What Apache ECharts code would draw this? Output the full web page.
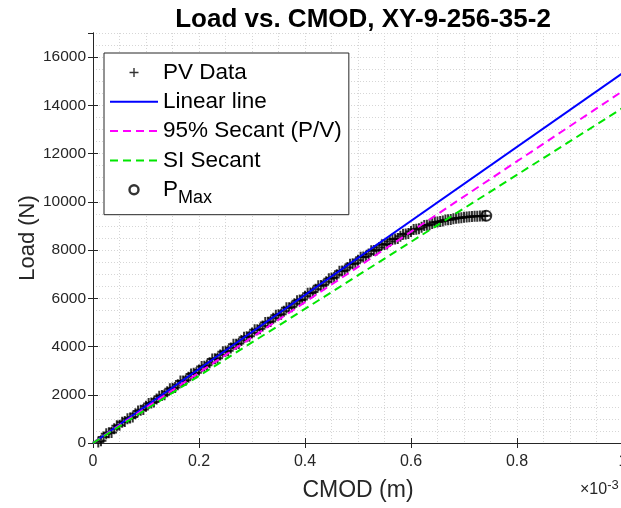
<!DOCTYPE html>
<html>
<head>
<meta charset="UTF-8" />
<title>Load vs. CMOD</title>
<script src="https://cdn.jsdelivr.net/npm/echarts@6/dist/echarts.min.js"></script>
<style type="text/css">
    body{ margin:0; background:#fff; }
    #chart{ width:621px; height:508px; }
</style>
</head>
<body>
<div id="chart"></div>
<script type="text/javascript">
// CMOD in units of 1e-3 m, load in N
var pvCmod = [0.010,0.015,0.020,0.025,0.030,0.035,0.040,0.045,0.050,0.055,
              0.060,0.065,0.070,0.075,0.080,0.085,0.090,0.095,0.100,0.105,
              0.110,0.115,0.120,0.125,0.130,0.135,0.140,0.145,0.150,0.155,
              0.160,0.165,0.170,0.175,0.180,0.185,0.190,0.195,0.200,0.205,
              0.210,0.215,0.220,0.225,0.230,0.235,0.240,0.245,0.250,0.255,
              0.260,0.265,0.270,0.275,0.280,0.285,0.290,0.295,0.300,0.305,
              0.310,0.315,0.320,0.325,0.330,0.335,0.340,0.345,0.350,0.355,
              0.360,0.365,0.370,0.375,0.380,0.385,0.390,0.395,0.400,0.405,
              0.410,0.415,0.420,0.425,0.430,0.435,0.440,0.445,0.450,0.455,
              0.460,0.465,0.470,0.475,0.480,0.485,0.490,0.495,0.500,0.505,
              0.510,0.515,0.520,0.525,0.530,0.535,0.540,0.545,0.550,0.555,
              0.560,0.565,0.570,0.575,0.580,0.585,0.590,0.595,0.600,0.605,
              0.610,0.615,0.620,0.625,0.630,0.635,0.640,0.645,0.650,0.655,
              0.660,0.665,0.670,0.675,0.680,0.685,0.690,0.695,0.700,0.705,
              0.710,0.715,0.720,0.725,0.730,0.735,0.740];
var pvLoad = [40,90,250,380,420,440,590,720,740,860,
              890,1010,1040,1080,1210,1330,1360,1390,1520,1640,
              1660,1700,1820,1940,1970,2000,2120,2250,2270,2300,
              2420,2570,2570,2600,2730,2860,2890,2910,3030,3170,
              3180,3220,3330,3480,3490,3510,3650,3780,3800,3830,
              3940,4090,4090,4130,4250,4380,4410,4430,4560,4700,
              4700,4740,4850,5000,5010,5040,5170,5300,5320,5340,
              5460,5610,5610,5650,5770,5900,5930,5950,6080,6210,
              6220,6260,6370,6520,6530,6560,6690,6810,6840,6860,
              6980,7120,7130,7160,7280,7410,7430,7450,7580,7700,
              7710,7740,7840,7970,7980,8000,8110,8220,8230,8250,
              8350,8450,8460,8480,8570,8660,8670,8690,8770,8850,
              8860,8880,8950,9020,9030,9050,9100,9150,9160,9180,
              9210,9250,9260,9270,9300,9320,9330,9340,9360,9370,
              9380,9390,9400,9405,9410,9415,9420];
var lineCmod = [0, 1];
var linearLoad = [0, 15350];
var secant95Load = [0, 14600];
var siSecantLoad = [0, 13900];
var pmaxPoint = [0.742, 9420];
var xTicks = [0, 0.2, 0.4, 0.6, 0.8, 1];
var yTicks = [0, 2000, 4000, 6000, 8000, 10000, 12000, 14000, 16000];

function pairs(xs, ys){
    var out = [];
    for (var i = 0; i < xs.length; i++) out.push([xs[i], ys[i]]);
    return out;
}

var axisColor = '#262626';
var gridLine = { show:true, lineStyle:{ color:'#d6d6d6', type:[1,2], width:1 } };
var plusIcon = 'path://M5,0L5,10M0,5L10,5';
var noSymbol = { color:'rgba(0,0,0,0)', borderColor:'rgba(0,0,0,0)', borderWidth:0 };

var myChart = echarts.init(document.getElementById('chart'));
var option = {
    animation: false,
    backgroundColor: '#fff',
    title: {
        text: 'Load vs. CMOD, XY-9-256-35-2',
        left: 358, top: 2, textAlign: 'center',
        textStyle: { fontFamily:'Liberation Sans', fontWeight:'bold', fontSize:26, color:'#000' }
    },
    grid: { left:93, top:33, right:-2, bottom:65, outerBoundsMode:'none', containLabel:false },
    legend: {
        orient: 'vertical',
        left: 104, top: 53,
        padding: [8, 7, 8, 5],
        itemGap: 6.3,
        itemWidth: 48, itemHeight: 9,
        backgroundColor: '#fff',
        borderColor: '#262626', borderWidth: 1,
        textStyle: {
            fontFamily:'Liberation Sans', fontSize:22.5, color:'#000',
            rich: { sub:{ fontFamily:'Liberation Sans', fontSize:18, color:'#000', verticalAlign:'bottom', padding:[16,0,0,0] } }
        },
        formatter: function(name){ return name === 'PMax' ? 'P{sub|Max}' : name; },
        data: [
            { name:'PV Data', icon: plusIcon, itemStyle:{ color:'transparent', borderColor:'#000', borderWidth:1.4 } },
            { name:'Linear line', itemStyle: noSymbol },
            { name:'95% Secant (P/V)', itemStyle: noSymbol },
            { name:'SI Secant', itemStyle: noSymbol },
            { name:'PMax', icon:'circle', itemStyle:{ color:'transparent', borderColor:'#000', borderWidth:2.4 } }
        ]
    },
    xAxis: [{
        type:'value', min:0, max:1, interval:0.2,
        name:'CMOD (m)', nameLocation:'middle', nameGap:36, nameMoveOverlap:false,
        nameTextStyle:{ fontFamily:'Liberation Sans', fontSize:23, color:axisColor },
        axisLine:{ lineStyle:{ color:axisColor } },
        axisTick:{ inside:true, length:5, lineStyle:{ color:axisColor } },
        axisLabel:{ fontFamily:'Liberation Sans', fontSize:16, color:axisColor, margin:11,
            formatter:function(v){ return xTicks.indexOf(v) >= 0 ? String(v) : ''; } },
        splitLine: gridLine,
        minorTick:{ show:false, splitNumber:4 },
        minorSplitLine: gridLine
    }, {
        type:'value', position:'top', min:0, max:1, interval:0.2,
        axisLine:{ show:true, lineStyle:{ color:axisColor } },
        axisTick:{ inside:true, length:5, lineStyle:{ color:axisColor } },
        axisLabel:{ show:false }, splitLine:{ show:false }
    }],
    yAxis: [{
        type:'value', min:0, max:17000, interval:2000,
        name:'Load (N)', nameLocation:'middle', nameGap:54, nameMoveOverlap:false,
        nameTextStyle:{ fontFamily:'Liberation Sans', fontSize:22, color:axisColor },
        axisLine:{ show:true, lineStyle:{ color:axisColor } },
        axisTick:{ show:true, inside:true, length:5, lineStyle:{ color:axisColor } },
        axisLabel:{ fontFamily:'Liberation Sans', fontSize:15.5, color:axisColor, margin:7, showMaxLabel:false,
            formatter:function(v){ return yTicks.indexOf(v) >= 0 ? String(v) : ''; } },
        splitLine: gridLine,
        minorTick:{ show:false, splitNumber:4 },
        minorSplitLine: gridLine
    }, {
        type:'value', position:'right', min:0, max:17000, interval:2000,
        axisLine:{ show:true, lineStyle:{ color:axisColor } },
        axisTick:{ show:true, inside:true, length:5, lineStyle:{ color:axisColor } },
        axisLabel:{ show:false }, splitLine:{ show:false }
    }],
    graphic: [{
        type:'text', left:580, top:479,
        style:{ text:'×10{sup|-3}', font:'16px Liberation Sans', fill:axisColor,
            rich:{ sup:{ fontFamily:'Liberation Sans', fontSize:13, fill:axisColor, verticalAlign:'top', padding:[0,0,8,0] } } }
    }],
    series: [{
        name:'PV Data', type:'scatter', symbol: plusIcon, symbolSize: 11,
        itemStyle:{ color:'transparent', borderColor:'#000', borderWidth:2 },
        data: pairs(pvCmod, pvLoad), z:3
    }, {
        name:'Linear line', type:'line', symbol:'none',
        lineStyle:{ color:'#0000ff', width:2 },
        itemStyle:{ color:'#0000ff' },
        data: pairs(lineCmod, linearLoad), z:4
    }, {
        name:'95% Secant (P/V)', type:'line', symbol:'none',
        lineStyle:{ color:'#ff00ff', width:2, type:[8,5] },
        itemStyle:{ color:'#ff00ff' },
        data: pairs(lineCmod, secant95Load), z:4
    }, {
        name:'SI Secant', type:'line', symbol:'none',
        lineStyle:{ color:'#00e600', width:2, type:[8,5] },
        itemStyle:{ color:'#00e600' },
        data: pairs(lineCmod, siSecantLoad), z:4
    }, {
        name:'PMax', type:'scatter', symbol:'circle', symbolSize:10,
        itemStyle:{ color:'transparent', borderColor:'#000', borderWidth:2 },
        data: [pmaxPoint], z:5
    }]
};
myChart.setOption(option);
</script>
</body>
</html>
